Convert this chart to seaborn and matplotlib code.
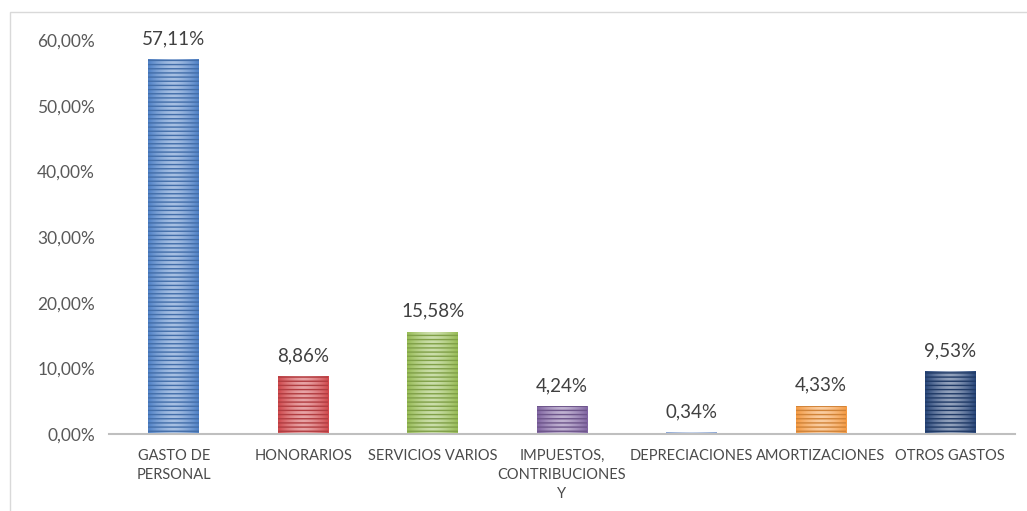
import matplotlib
matplotlib.use("Agg")
import matplotlib.pyplot as plt
import matplotlib.colors as mcolors
from matplotlib.patches import Rectangle
from matplotlib.ticker import FuncFormatter
import numpy as np
import pandas as pd
import seaborn as sns

categories = ["GASTO DE\nPERSONAL", "HONORARIOS", "SERVICIOS VARIOS",
              "IMPUESTOS,\nCONTRIBUCIONES\nY", "DEPRECIACIONES",
              "AMORTIZACIONES", "OTROS GASTOS"]
values = [57.11, 8.86, 15.58, 4.24, 0.34, 4.33, 9.53]
colors = ["#4F81C7", "#D0484C", "#97BC55", "#8064A2", "#8AA6D6", "#F59A42", "#264478"]

sns.set_theme(style="white")
plt.rcParams["font.family"] = ["Lato", "DejaVu Sans"]
plt.rcParams["hatch.linewidth"] = 1.0

df = pd.DataFrame({"cat": categories, "val": values})

fig = plt.figure(figsize=(10.27, 5.11), dpi=100)
fig.patches.append(Rectangle((10 / 1027, -0.01), 1.02, 1 - 12 / 511 + 0.01,
                             transform=fig.transFigure, fill=False,
                             edgecolor="#D9D9D9", linewidth=1.0))
ax = fig.add_axes([109 / 1027, 1 - 434 / 511, (1015 - 109) / 1027, (434 - 40) / 511])

sns.barplot(data=df, x="cat", y="val", hue="cat", palette=colors,
            legend=False, width=0.39, ax=ax, saturation=1)

# striped bars with a lighter centre
for patch, c in zip(ax.patches, colors):
    base = np.array(mcolors.to_rgb(c))
    light = base + (1 - base) * 0.5
    x0, y0 = patch.get_x(), patch.get_y()
    w, h = patch.get_width(), patch.get_height()
    t = np.linspace(-1, 1, 64)
    mix = (np.abs(t) ** 1.5)[None, :, None]
    grad = light[None, None, :] * (1 - mix) + base[None, None, :] * mix
    im = ax.imshow(grad, extent=[x0, x0 + w, y0, y0 + h], aspect="auto",
                   zorder=patch.get_zorder(), interpolation="bilinear")
    im.set_clip_path(patch)
    patch.set_facecolor("none")
    patch.set_edgecolor(base * 0.85)
    patch.set_hatch("----")
    patch.set_linewidth(0)
    patch.set_zorder(patch.get_zorder() + 0.1)

ax.set_xlim(-0.5, len(categories) - 0.5)
ax.set_ylim(0, 60)
ax.set_yticks(np.arange(0, 61, 10))
ax.yaxis.set_major_formatter(FuncFormatter(lambda v, p: f"{v:.2f}%".replace(".", ",")))
ax.set_xlabel("")
ax.set_ylabel("")

for i, v in enumerate(values):
    ax.text(i, v + 1.8, f"{v:.2f}%".replace(".", ","), ha="center", va="bottom",
            fontsize=13.5, color="#404040")

ax.tick_params(axis="y", labelsize=12.5, colors="#595959", length=0, pad=10)
ax.tick_params(axis="x", labelsize=10.5, colors="#4A4A4A", length=0, pad=11)
for lbl in ax.get_xticklabels():
    lbl.set_linespacing(1.45)

for side in ["top", "right", "left"]:
    ax.spines[side].set_visible(False)
ax.spines["bottom"].set_color("#BFBFBF")
ax.spines["bottom"].set_linewidth(1.5)

fig.savefig("out.png", dpi=100)
